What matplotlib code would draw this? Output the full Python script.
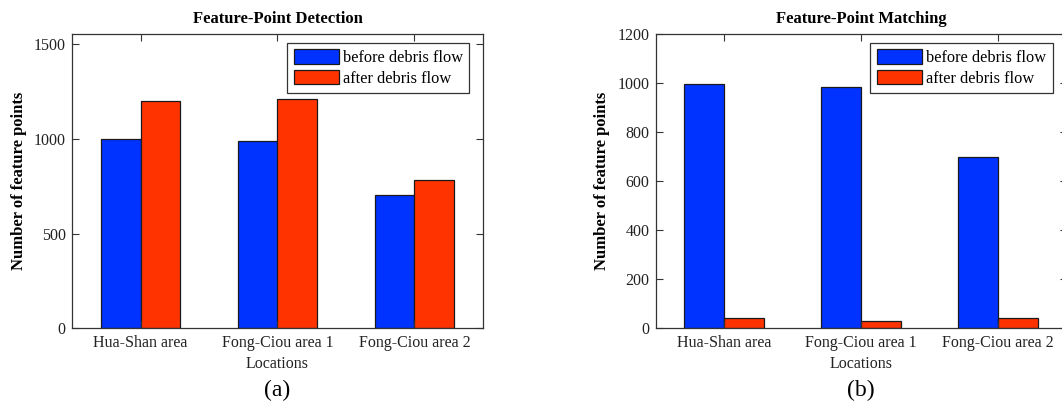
import matplotlib.pyplot as plt
import numpy as np

plt.rcParams['font.family'] = ['Liberation Serif', 'DejaVu Serif']

locations = ['Hua-Shan area', 'Fong-Ciou area 1', 'Fong-Ciou area 2']
series_names = ['before debris flow', 'after debris flow']

detect_before = [1000, 988, 703]
detect_after = [1198, 1210, 783]

match_before = [996, 986, 701]
match_after = [43, 28, 43]

colors = ['#0033ff', '#ff3300']
W, H = 1062, 407


def px_axes(left, top, right, bottom):
    return fig.add_axes([left / W, 1 - bottom / H, (right - left) / W, (bottom - top) / H])


def panel(ax, before, after, ymax, yticks, title, tag):
    x = np.arange(1, len(locations) + 1)
    bw = 0.29
    ax.bar(x - bw / 2, before, bw, color=colors[0], edgecolor='#1a1a1a',
           linewidth=0.9, label=series_names[0])
    ax.bar(x + bw / 2, after, bw, color=colors[1], edgecolor='#1a1a1a',
           linewidth=0.9, label=series_names[1])
    ax.set_xlim(0.5, 3.5)
    ax.set_ylim(0, ymax)
    ax.set_xticks(x)
    ax.set_xticklabels(locations)
    ax.set_yticks(yticks)
    ax.tick_params(direction='in', length=5, width=0.8, color='#333333',
                   labelsize=11.5, labelcolor='#222222', top=True, right=True, pad=4.5)
    for s in ax.spines.values():
        s.set_linewidth(0.9)
        s.set_color('#333333')
    ax.set_title(title, fontsize=12, fontweight='bold', pad=8)
    ax.set_ylabel('Number of feature points', fontsize=12, fontweight='bold')
    ax.yaxis.set_label_coords(-0.129, 0.5)
    ax.yaxis.label.set_va('center')
    ax.set_xlabel('Locations', fontsize=11.5, color='#222222')
    ax.xaxis.set_label_coords(0.5, -0.122)
    ax.xaxis.label.set_va('center')
    leg = ax.legend(loc='upper left', bbox_to_anchor=(0.523, 0.971),
                    borderaxespad=0, fontsize=11.8, fancybox=False,
                    edgecolor='#333333', framealpha=1, handlelength=2.75,
                    handleheight=1.0, handletextpad=0.25, labelspacing=0.2,
                    borderpad=0.4)
    leg.get_frame().set_linewidth(0.9)
    ax.text(0.5, -0.21, tag, transform=ax.transAxes, ha='center', va='center',
            fontsize=17)


fig = plt.figure(figsize=(W / 100, H / 100), dpi=100)

ax1 = px_axes(72, 34.3, 483, 328.3)
panel(ax1, detect_before, detect_after, 1551, [0, 500, 1000, 1500],
      'Feature-Point Detection', '(a)')

ax2 = px_axes(655.5, 34.3, 1066.5, 328.3)
panel(ax2, match_before, match_after, 1200, [0, 200, 400, 600, 800, 1000, 1200],
      'Feature-Point Matching', '(b)')

fig.savefig('out.png', dpi=100)
